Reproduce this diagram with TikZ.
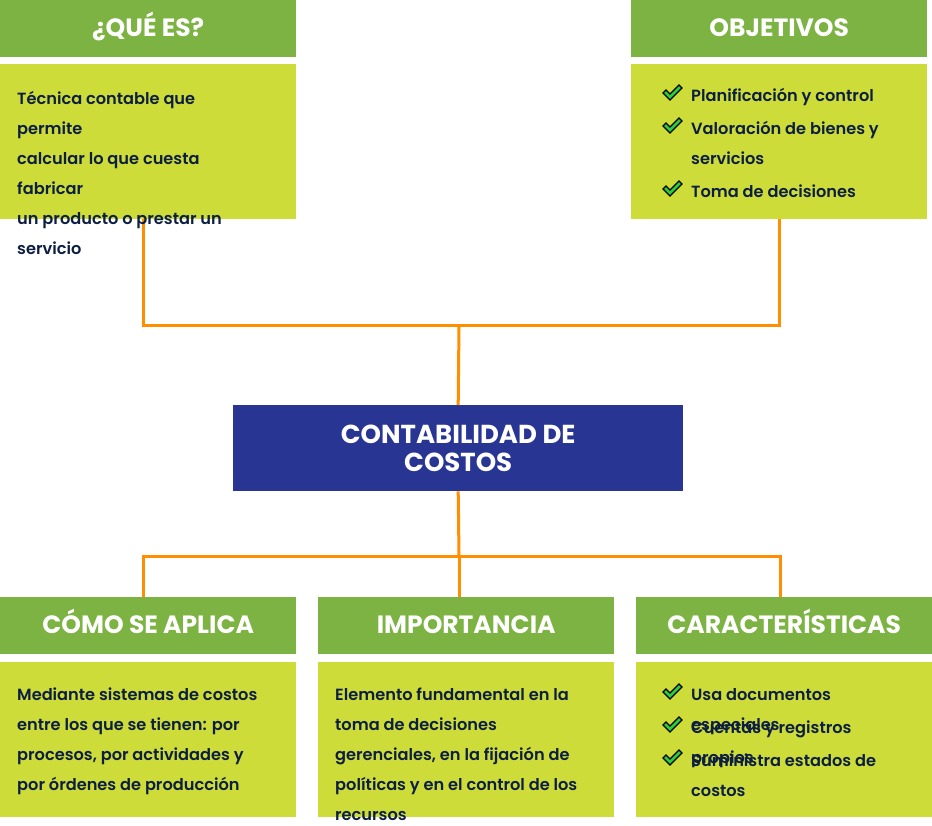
\documentclass[tikz,border=0pt]{standalone}
\usepackage{fontspec}
\setmainfont{Lato}
\newfontfamily\headfont{Poppins}
\newfontfamily\bodyfont{Poppins}[UprightFont={* SemiBold}]
\definecolor{hgreen}{RGB}{124,179,66}
\definecolor{lime}{RGB}{205,220,57}
\definecolor{navy}{RGB}{40,53,147}
\definecolor{conorange}{RGB}{255,143,0}
\definecolor{ink}{RGB}{12,30,66}
\definecolor{checkgreen}{RGB}{46,204,64}
\tikzset{
  head/.style={fill=hgreen, draw=none, anchor=north west, minimum width=296pt, minimum height=57pt, inner sep=0pt, text height=16pt, text depth=0pt, text=white, font=\headfont\bfseries\fontsize{25}{28}\selectfont},
  bodybox/.style={fill=lime, draw=none, anchor=north west, minimum width=296pt, minimum height=155pt, inner sep=0pt},
  txt/.style={anchor=base west, inner sep=0pt, align=left, text=ink, font=\bodyfont\fontsize{16.2}{30}\selectfont},
  conn/.style={draw=conorange, line width=3pt},
  tick/.pic={\filldraw[fill=checkgreen, draw=black, line width=1.2pt, line join=miter] (0,9) -- (3,6) -- (7,10) -- (16,1) -- (19,4) -- (7,16) -- cycle;}
}
\begin{document}
\begin{tikzpicture}[x=1pt,y=-1pt]
\useasboundingbox (0,0) rectangle (932,825);
% boxes
\node[head] (h1) at (0,0) {¿QUÉ ES?};
\node[bodybox] (b1) at (0,64) {};
\node[head] (h2) at (631,0) {OBJETIVOS};
\node[bodybox] (b2) at (631,64) {};
\node[fill=navy, anchor=north west, minimum width=450pt, minimum height=86pt, inner sep=0pt, text=white, align=center, font=\headfont\bfseries\fontsize{26}{28}\selectfont] (c) at (233,405) {CONTABILIDAD DE\\COSTOS};
\node[head] (h4) at (0,597) {CÓMO SE APLICA};
\node[bodybox] (b4) at (0,662) {};
\node[head] (h5) at (318,597) {IMPORTANCIA};
\node[bodybox] (b5) at (318,662) {};
\node[head] (h6) at (636,597) {CARACTERÍSTICAS};
\node[bodybox] (b6) at (636,662) {};
% connectors
\coordinate (jt) at (459,325);
\coordinate (jb) at (459,556);
\draw[conn] ([xshift=-5pt]b1.south) |- (jt) -| (b2.south);
\draw[conn] (jt) -- (c.north);
\draw[conn] (c.south) -- (jb);
\draw[conn] ([xshift=-5pt]h4.north) |- (jb) -| ([xshift=-4pt]h6.north);
\draw[conn] (jb) -- (h5.north -| jb);
% texts (anchored at the baseline of their last line)
\node[txt] (t1) at (17,254) {Técnica contable que\\permite\\calcular lo que cuesta\\fabricar\\un producto o prestar un\\servicio};
\pic at (663,84) {tick};
\node[txt] (t2a) at (691,101) {Planificación y control};
\pic at (663,117) {tick};
\node[txt] (t2b) at (691,164) {Valoración de bienes y\\servicios};
\pic at (663,180) {tick};
\node[txt] (t2c) at (691,197) {Toma de decisiones};
\node[txt] (t4) at (17,790) {Mediante sistemas de costos\\entre los que se tienen: por\\procesos, por actividades y\\por órdenes de producción};
\node[txt] (t5) at (335,820) {Elemento fundamental en la\\toma de decisiones\\gerenciales, en la fijación de\\políticas y en el control de los\\recursos};
\pic at (663,683) {tick};
\node[txt] (t6a) at (691,730) {Usa documentos\\especiales};
\pic at (663,716) {tick};
\node[txt] (t6b) at (691,763) {Cuentas y registros\\propios};
\pic at (663,749) {tick};
\node[txt] (t6c) at (691,796) {Suministra estados de\\costos};
\end{tikzpicture}
\end{document}
